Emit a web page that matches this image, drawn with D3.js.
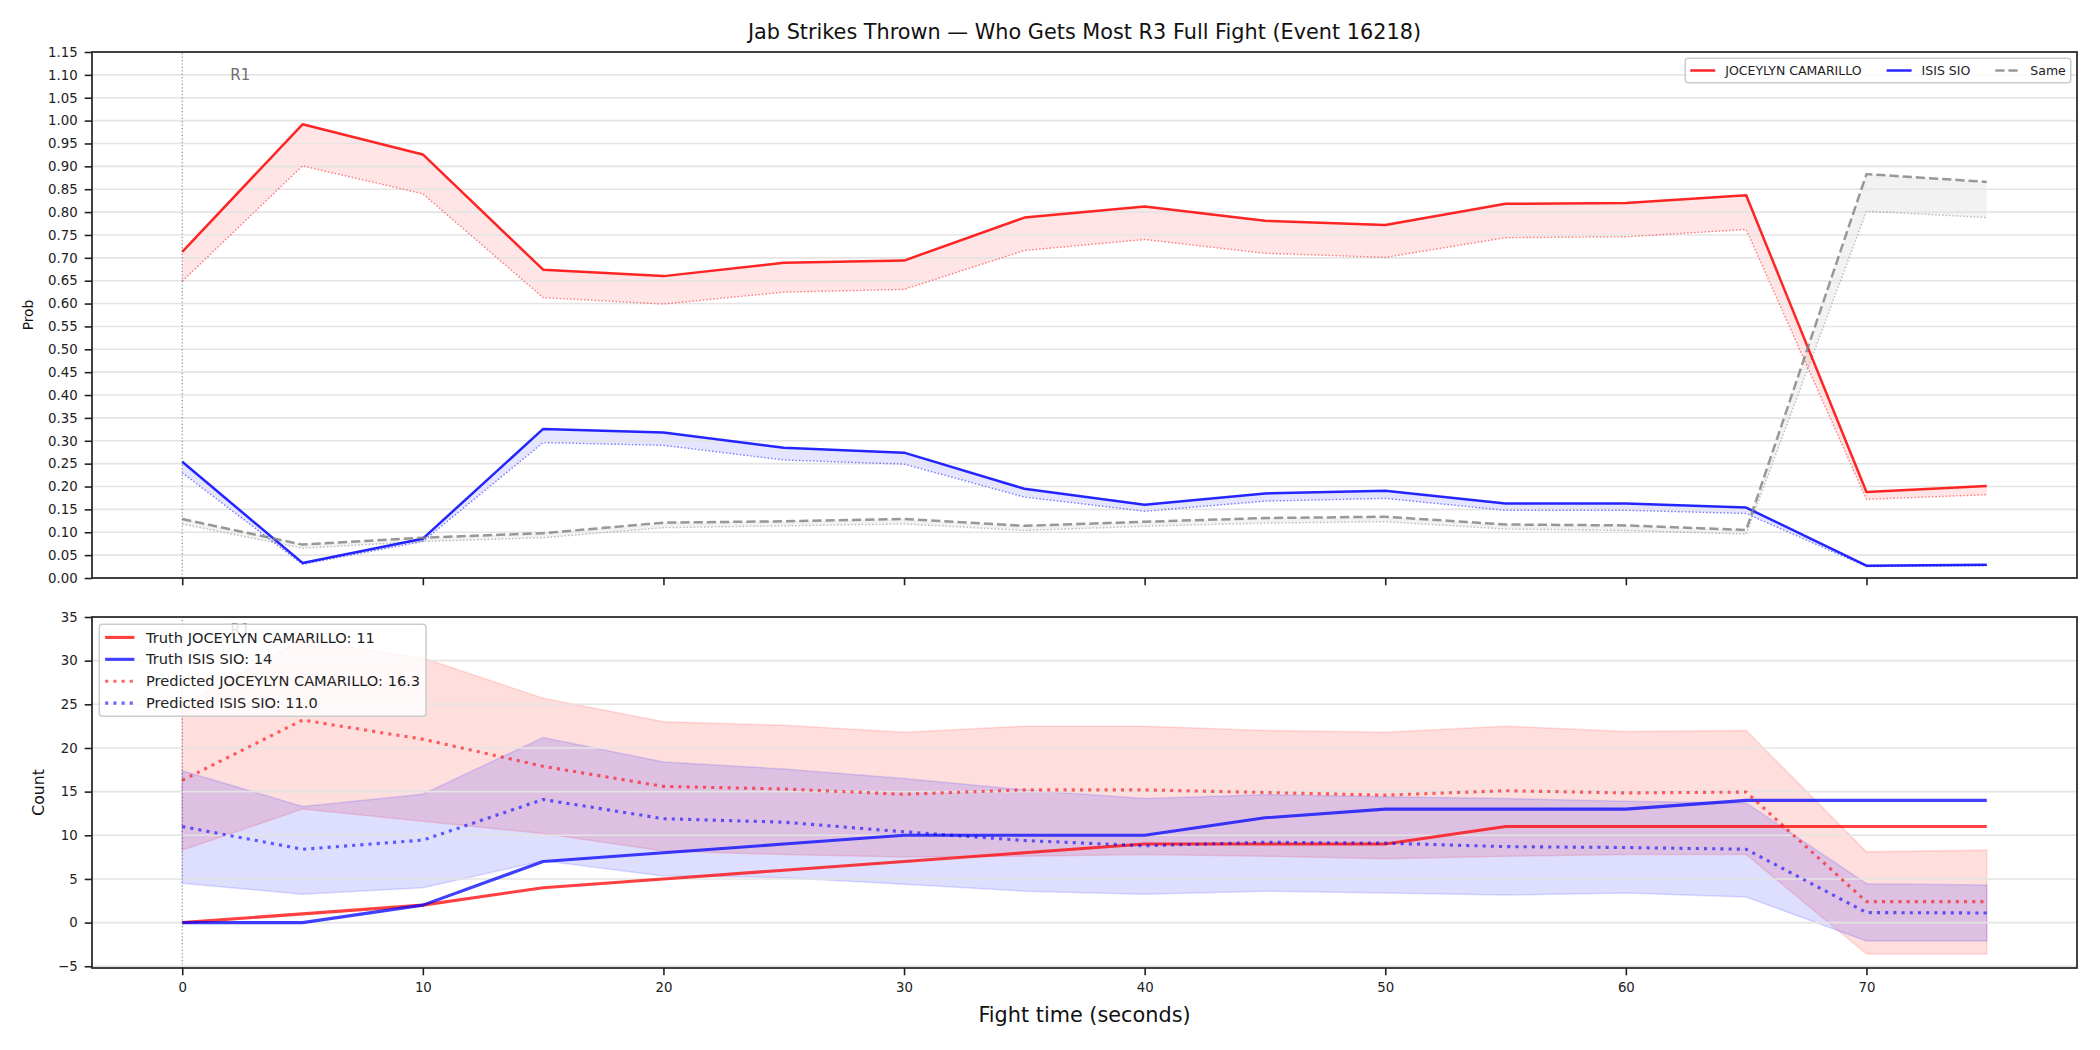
<!DOCTYPE html>
<html>
<head>
<meta charset="utf-8">
<script src="https://cdn.jsdelivr.net/npm/d3@7"></script>
<style>
  body { margin: 0; background: #fff; }
  svg { font-family: "DejaVu Sans", sans-serif; }
</style>
</head>
<body>
<svg id="chart" width="2100" height="1050"></svg>
<script>
/*************************************************************
 *  Data section.
 *************************************************************/

const fighter_a = 'JOCEYLYN CAMARILLO';
const fighter_b = 'ISIS SIO';

const fight_time = [0, 5, 10, 15, 20, 25, 30, 35, 40, 45, 50, 55, 60, 65, 70, 75];
const x_ticks = [0, 10, 20, 30, 40, 50, 60, 70];
const prob_ticks = [0, 0.05, 0.1, 0.15, 0.2, 0.25, 0.3, 0.35, 0.4, 0.45, 0.5, 0.55,
                    0.6, 0.65, 0.7, 0.75, 0.8, 0.85, 0.9, 0.95, 1.0, 1.05, 1.1, 1.15];
const count_ticks = [-5, 0, 5, 10, 15, 20, 25, 30, 35];

// Top panel: who gets most (truth-side solid, predicted dotted)
const prob_a      = [0.713, 0.992, 0.926, 0.674, 0.660, 0.689, 0.694, 0.788, 0.812, 0.781, 0.772, 0.818, 0.820, 0.837, 0.188, 0.201];
const prob_a_pred = [0.649, 0.901, 0.840, 0.613, 0.599, 0.625, 0.631, 0.716, 0.740, 0.710, 0.701, 0.744, 0.746, 0.762, 0.172, 0.182];
const prob_b      = [0.254, 0.033, 0.086, 0.326, 0.318, 0.285, 0.274, 0.195, 0.160, 0.185, 0.191, 0.163, 0.163, 0.154, 0.027, 0.029];
const prob_b_pred = [0.230, 0.030, 0.080, 0.296, 0.290, 0.258, 0.249, 0.177, 0.146, 0.168, 0.174, 0.148, 0.148, 0.141, 0.025, 0.027];
const prob_same      = [0.129, 0.073, 0.088, 0.098, 0.121, 0.124, 0.129, 0.114, 0.123, 0.131, 0.134, 0.117, 0.115, 0.105, 0.883, 0.866];
const prob_same_pred = [0.118, 0.065, 0.080, 0.088, 0.110, 0.114, 0.118, 0.104, 0.113, 0.120, 0.123, 0.107, 0.104, 0.096, 0.802, 0.788];

// Bottom panel: counts
const truth_a = [0, 1, 2, 4, 5, 6, 7, 8, 9, 9, 9, 11, 11, 11, 11, 11];
const truth_b = [0, 0, 2, 7, 8, 9, 10, 10, 10, 12, 13, 13, 13, 14, 14, 14];
const pred_a    = [16.3, 23.2, 21.0, 17.9, 15.6, 15.3, 14.7, 15.2, 15.2, 14.9, 14.6, 15.1, 14.85, 14.95, 2.4, 2.4];
const pred_a_hi = [25.0, 32.4, 30.3, 25.7, 23.0, 22.6, 21.8, 22.5, 22.5, 22.0, 21.8, 22.5, 21.9, 22.0, 8.1, 8.3];
const pred_a_lo = [8.3, 13.0, 11.6, 10.2, 8.2, 7.8, 7.5, 7.6, 7.8, 7.6, 7.3, 7.6, 7.8, 7.8, -3.6, -3.6];
const pred_b    = [11.0, 8.4, 9.45, 14.1, 11.9, 11.5, 10.4, 9.4, 8.8, 9.2, 9.1, 8.7, 8.6, 8.4, 1.15, 1.1];
const pred_b_hi = [17.4, 13.3, 14.7, 21.2, 18.4, 17.6, 16.5, 15.2, 14.2, 14.65, 14.4, 14.2, 13.9, 13.7, 4.46, 4.3];
const pred_b_lo = [4.5, 3.24, 4.0, 7.07, 5.34, 5.15, 4.4, 3.6, 3.24, 3.6, 3.4, 3.16, 3.4, 2.93, -2.1, -2.1];

const round_marks = [{label: 'R1', t: 0}];


/*************************************************************
 *  Layout / scales.
 *************************************************************/

const plot_left = 92, plot_right = 2077;
const svg = d3.select('#chart');

const x = d3.scaleLinear().domain([-3.75, 78.75]).range([plot_left, plot_right]);
const y_prob = d3.scaleLinear().domain([0, 1.15]).range([578, 52]);
const y_count = d3.scaleLinear().domain([-5.2, 35]).range([968, 617]);


/*************************************************************
 *  Drawing helpers.
 *************************************************************/

function add_clip(id, y){
    svg.append('defs').append('clipPath').attr('id', id)
    .append('rect')
    .attr('x', plot_left)
    .attr('y', y.range()[1])
    .attr('width', plot_right - plot_left)
    .attr('height', y.range()[0] - y.range()[1])
}

function draw_grid(g, y, ticks){
    g.append('g').selectAll('line').data(ticks).join('line')
    .attr('x1', plot_left).attr('x2', plot_right)
    .attr('y1', d => y(d)).attr('y2', d => y(d))
    .attr('stroke', '#e4e4e4')
    .attr('stroke-width', 1.6)
}

function draw_band(g, y, lo, hi, color, opacity, edge){
    let area = d3.area()
    .x((d, i) => x(fight_time[i]))
    .y0((d, i) => y(lo[i]))
    .y1((d, i) => y(hi[i]))

    g.append('path').datum(lo)
    .attr('d', area)
    .attr('fill', color)
    .attr('fill-opacity', opacity)
    .attr('stroke', edge ? color : 'none')
    .attr('stroke-opacity', opacity)
    .attr('stroke-width', 1.5)
}

function draw_series(g, y, values, color, opacity, width, dash){
    let line = d3.line()
    .x((d, i) => x(fight_time[i]))
    .y(d => y(d))

    g.append('path').datum(values)
    .attr('d', line)
    .attr('fill', 'none')
    .attr('stroke', color)
    .attr('stroke-opacity', opacity)
    .attr('stroke-width', width)
    .attr('stroke-dasharray', dash || null)
    .attr('stroke-linejoin', 'round')
}

function draw_round_marks(g, y){
    let [y0, y1] = y.range()
    for (let r of round_marks){
        g.append('line')
        .attr('x1', x(r.t)).attr('x2', x(r.t))
        .attr('y1', y0).attr('y2', y1)
        .attr('stroke', '#555')
        .attr('stroke-opacity', 0.75)
        .attr('stroke-width', 1.1)
        .attr('stroke-dasharray', '1.2,2.2')

        g.append('text')
        .attr('x', x(r.t + 2))
        .attr('y', y(y.domain()[1] * 0.957))
        .attr('dy', '0.35em')
        .attr('font-size', 15)
        .attr('fill', '#6e6e6e')
        .text(r.label)
    }
}

function draw_axes(g, y, y_ticks, y_format, show_x_labels){
    let [y_bottom, y_top] = y.range()

    let x_axis = d3.axisBottom(x)
    .tickValues(x_ticks)
    .tickSize(7.3)
    .tickPadding(7)
    .tickFormat(show_x_labels ? d3.format('d') : () => '')

    let y_axis = d3.axisLeft(y)
    .tickValues(y_ticks)
    .tickSize(7.3)
    .tickPadding(7)
    .tickFormat(y_format)

    let ax = g.append('g')
    ax.append('g').attr('transform', `translate(0,${y_bottom})`).call(x_axis)
    ax.append('g').attr('transform', `translate(${plot_left},0)`).call(y_axis)

    ax.selectAll('.domain').remove()
    ax.selectAll('.tick line').attr('stroke', '#222').attr('stroke-width', 1.6)
    ax.selectAll('.tick text')
    .attr('font-size', 13.3)
    .attr('font-family', '"DejaVu Sans", sans-serif')
    .attr('fill', '#222')

    // frame (all four spines)
    g.append('rect')
    .attr('x', plot_left).attr('y', y_top)
    .attr('width', plot_right - plot_left)
    .attr('height', y_bottom - y_top)
    .attr('fill', 'none')
    .attr('stroke', '#222')
    .attr('stroke-width', 1.7)
}

/**
 * Matplotlib-like legend.
 * @param entries [{label, color, opacity, width, dash}]
 * @param opt {font_size, ncol, anchor: 'upper right'|'upper left', y: axes top}
 */
function draw_legend(entries, opt){
    let fs = opt.font_size
    let pad = 0.4 * fs, handle_len = 2 * fs, text_pad = 0.8 * fs, col_gap = 2 * fs
    let g = svg.append('g')
    let box = g.append('rect')

    // measure labels
    let items = entries.map(e => {
        let item = g.append('g')
        item.append('line')
        .attr('x1', 0).attr('x2', handle_len)
        .attr('stroke', e.color)
        .attr('stroke-opacity', e.opacity)
        .attr('stroke-width', e.width)
        .attr('stroke-dasharray', e.dash || null)
        let t = item.append('text')
        .attr('x', handle_len + text_pad)
        .attr('dy', '0.35em')
        .attr('font-size', fs)
        .attr('fill', '#222')
        .text(e.label)
        return {node: item, w: handle_len + text_pad + t.node().getComputedTextLength()}
    })

    let box_w, box_h
    if (opt.ncol > 1){
        box_w = 2 * pad + d3.sum(items, d => d.w) + col_gap * (items.length - 1)
        box_h = fs + 2 * pad + 2
    } else {
        box_w = 2 * pad + d3.max(items, d => d.w)
        box_h = items.length * fs + (items.length - 1) * 0.5 * fs + 2 * pad
    }

    let border = 0.5 * fs
    let left = opt.anchor === 'upper right' ? plot_right - border - box_w : plot_left + border
    let top = opt.y + border

    box.attr('x', left).attr('y', top)
    .attr('width', box_w).attr('height', box_h)
    .attr('rx', 3)
    .attr('fill', 'white').attr('fill-opacity', 0.8)
    .attr('stroke', '#cccccc').attr('stroke-width', 1.5)

    let cx = left + pad
    items.forEach((it, i) => {
        if (opt.ncol > 1){
            it.node.attr('transform', `translate(${cx},${top + box_h / 2})`)
            cx += it.w + col_gap
        } else {
            it.node.attr('transform', `translate(${cx},${top + pad + fs / 2 + i * 1.5 * fs})`)
        }
    })
}


/*************************************************************
 *  Top panel: probabilities.
 *************************************************************/

add_clip('clip-top', y_prob)
let top_g = svg.append('g')
let top_data = top_g.append('g').attr('clip-path', 'url(#clip-top)')

draw_band(top_data, y_prob, prob_a_pred, prob_a, 'red', 0.1)
draw_band(top_data, y_prob, prob_b_pred, prob_b, 'blue', 0.1)
draw_band(top_data, y_prob, prob_same_pred, prob_same, 'gray', 0.1)
draw_grid(top_data, y_prob, prob_ticks)

draw_series(top_data, y_prob, prob_a_pred, 'red', 0.5, 1.4, '1.5,2')
draw_series(top_data, y_prob, prob_b_pred, 'blue', 0.5, 1.4, '1.5,2')
draw_series(top_data, y_prob, prob_same_pred, 'gray', 0.5, 1.4, '1.5,2')
draw_series(top_data, y_prob, prob_a, 'red', 0.85, 2.5)
draw_series(top_data, y_prob, prob_b, 'blue', 0.85, 2.5)
draw_series(top_data, y_prob, prob_same, 'gray', 0.8, 2.5, '9.2,4')
draw_round_marks(top_data, y_prob)

draw_axes(top_g, y_prob, prob_ticks, d3.format('.2f'), false)


/*************************************************************
 *  Bottom panel: counts.
 *************************************************************/

add_clip('clip-bottom', y_count)
let bot_g = svg.append('g')
let bot_data = bot_g.append('g').attr('clip-path', 'url(#clip-bottom)')

draw_band(bot_data, y_count, pred_a_lo, pred_a_hi, 'red', 0.13, true)
draw_band(bot_data, y_count, pred_b_lo, pred_b_hi, 'blue', 0.13, true)
draw_grid(bot_data, y_count, count_ticks)

draw_series(bot_data, y_count, truth_a, 'red', 0.75, 3.1)
draw_series(bot_data, y_count, truth_b, 'blue', 0.75, 3.1)
draw_series(bot_data, y_count, pred_a, 'red', 0.6, 3.1, '3.1,5.1')
draw_series(bot_data, y_count, pred_b, 'blue', 0.6, 3.1, '3.1,5.1')
draw_round_marks(bot_data, y_count)

draw_axes(bot_g, y_count, count_ticks, d3.format('d'), true)


/*************************************************************
 *  Texts and legends.
 *************************************************************/

svg.append('text')
.attr('x', (plot_left + plot_right) / 2)
.attr('y', 32)
.attr('dy', '0.35em')
.attr('text-anchor', 'middle')
.attr('font-size', 20.8)
.attr('fill', '#111')
.text('Jab Strikes Thrown \u2014 Who Gets Most R3 Full Fight (Event 16218)')

svg.append('text')
.attr('transform', `translate(28,${(y_prob.range()[0] + y_prob.range()[1]) / 2}) rotate(-90)`)
.attr('dy', '0.35em')
.attr('text-anchor', 'middle')
.attr('font-size', 13.8)
.attr('fill', '#111')
.text('Prob')

svg.append('text')
.attr('transform', `translate(38,${(y_count.range()[0] + y_count.range()[1]) / 2}) rotate(-90)`)
.attr('dy', '0.35em')
.attr('text-anchor', 'middle')
.attr('font-size', 15.7)
.attr('fill', '#111')
.text('Count')

svg.append('text')
.attr('x', (plot_left + plot_right) / 2)
.attr('y', 1015)
.attr('dy', '0.35em')
.attr('text-anchor', 'middle')
.attr('font-size', 20.8)
.attr('fill', '#111')
.text('Fight time (seconds)')

draw_legend([
    {label: fighter_a, color: 'red', opacity: 0.85, width: 2.5},
    {label: fighter_b, color: 'blue', opacity: 0.85, width: 2.5},
    {label: 'Same', color: 'gray', opacity: 0.8, width: 2.5, dash: '9.2,4'}
], {font_size: 12.5, ncol: 3, anchor: 'upper right', y: y_prob.range()[1]})

draw_legend([
    {label: `Truth ${fighter_a}: ${truth_a[truth_a.length - 1]}`, color: 'red', opacity: 0.75, width: 3.1},
    {label: `Truth ${fighter_b}: ${truth_b[truth_b.length - 1]}`, color: 'blue', opacity: 0.75, width: 3.1},
    {label: `Predicted ${fighter_a}: ${pred_a[0].toFixed(1)}`, color: 'red', opacity: 0.6, width: 3.1, dash: '3.1,5.1'},
    {label: `Predicted ${fighter_b}: ${pred_b[0].toFixed(1)}`, color: 'blue', opacity: 0.6, width: 3.1, dash: '3.1,5.1'}
], {font_size: 14.6, ncol: 1, anchor: 'upper left', y: y_count.range()[1]})
</script>
</body>
</html>
